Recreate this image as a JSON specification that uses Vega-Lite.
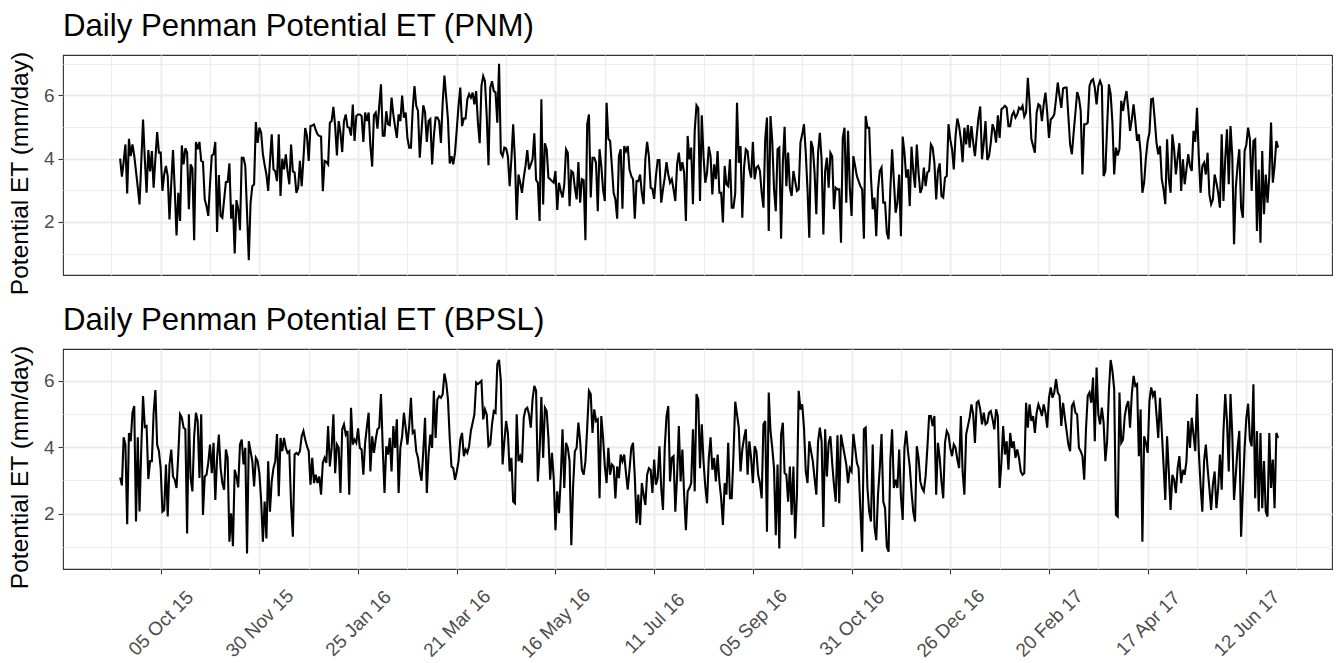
{
"$schema":"https://vega.github.io/schema/vega-lite/v6.json",
"background":"white",
"padding":{"left":6,"top":10,"right":7,"bottom":0},
"spacing":8,
"config":{"font":"Liberation Sans","view":{"stroke":"#333333","strokeWidth":1.1},
"axis":{"labelFont":"Liberation Sans","titleFont":"Liberation Sans","gridColor":"#EBEBEB","domain":false,"tickColor":"#333333","tickSize":5,"tickWidth":1.1,"labelColor":"#4D4D4D","labelFontSize":19,"titleFontSize":24.5,"titleFontWeight":"normal","titleColor":"#000000"},
"title":{"font":"Liberation Sans","fontSize":31.2,"fontWeight":"normal","color":"#000000","anchor":"start","frame":"group","offset":9}},
"data":{"values":[
{"d":"2015-09-12","p":4.0,"b":3.09},{"d":"2015-09-13","p":3.43,"b":2.85},{"d":"2015-09-14","p":3.9,"b":4.3},{"d":"2015-09-15","p":4.45,"b":4.08},{"d":"2015-09-16","p":2.9,"b":1.68},{"d":"2015-09-17","p":4.63,"b":4.43},{"d":"2015-09-18","p":4.08,"b":4.18},{"d":"2015-09-19","p":4.45,"b":5.04},{"d":"2015-09-20","p":4.1,"b":5.24},{"d":"2015-09-21","p":3.6,"b":1.76},{"d":"2015-09-22","p":3.1,"b":4.3},{"d":"2015-09-23","p":2.55,"b":2.06},{"d":"2015-09-24","p":3.9,"b":3.98},{"d":"2015-09-25","p":5.24,"b":5.54},{"d":"2015-09-26","p":4.0,"b":4.61},{"d":"2015-09-27","p":2.92,"b":4.64},{"d":"2015-09-28","p":4.27,"b":3.04},{"d":"2015-09-29","p":3.6,"b":3.58},{"d":"2015-09-30","p":4.24,"b":3.58},
{"d":"2015-10-01","p":3.08,"b":5.04},{"d":"2015-10-02","p":4.0,"b":5.72},{"d":"2015-10-03","p":4.84,"b":4.08},{"d":"2015-10-04","p":4.19,"b":3.88},{"d":"2015-10-05","p":4.19,"b":3.37},{"d":"2015-10-06","p":2.98,"b":2.06},{"d":"2015-10-07","p":3.5,"b":2.11},{"d":"2015-10-08","p":3.77,"b":3.48},{"d":"2015-10-09","p":3.45,"b":1.91},{"d":"2015-10-10","p":2.08,"b":3.48},{"d":"2015-10-11","p":3.2,"b":3.93},{"d":"2015-10-12","p":4.27,"b":3.12},{"d":"2015-10-13","p":3.0,"b":3.02},{"d":"2015-10-14","p":1.57,"b":2.77},{"d":"2015-10-15","p":2.92,"b":3.78},{"d":"2015-10-16","p":2.03,"b":4.99},{"d":"2015-10-17","p":4.42,"b":4.89},{"d":"2015-10-18","p":3.82,"b":4.59},{"d":"2015-10-19","p":4.33,"b":4.54},{"d":"2015-10-20","p":4.19,"b":1.4},{"d":"2015-10-21","p":2.4,"b":4.99},{"d":"2015-10-22","p":3.82,"b":3.07},{"d":"2015-10-23","p":3.7,"b":2.67},{"d":"2015-10-24","p":1.42,"b":4.33},{"d":"2015-10-25","p":4.53,"b":5.04},{"d":"2015-10-26","p":4.3,"b":4.79},{"d":"2015-10-27","p":4.53,"b":3.07},{"d":"2015-10-28","p":3.93,"b":4.99},{"d":"2015-10-29","p":3.9,"b":1.96},{"d":"2015-10-30","p":2.71,"b":3.12},{"d":"2015-10-31","p":2.5,"b":3.17},
{"d":"2015-11-01","p":2.19,"b":3.53},{"d":"2015-11-02","p":3.2,"b":4.08},{"d":"2015-11-03","p":4.1,"b":3.22},{"d":"2015-11-04","p":4.14,"b":4.13},{"d":"2015-11-05","p":4.53,"b":2.41},{"d":"2015-11-06","p":1.68,"b":3.68},{"d":"2015-11-07","p":3.48,"b":4.38},{"d":"2015-11-08","p":2.19,"b":3.37},{"d":"2015-11-09","p":2.13,"b":2.92},{"d":"2015-11-10","p":2.7,"b":2.72},{"d":"2015-11-11","p":3.26,"b":3.93},{"d":"2015-11-12","p":3.26,"b":3.68},{"d":"2015-11-13","p":3.85,"b":1.15},{"d":"2015-11-14","p":2.1,"b":2.01},{"d":"2015-11-15","p":2.55,"b":1.02},{"d":"2015-11-16","p":1.0,"b":3.32},{"d":"2015-11-17","p":2.69,"b":3.12},{"d":"2015-11-18","p":2.4,"b":2.79},{"d":"2015-11-19","p":1.74,"b":4.08},{"d":"2015-11-20","p":4.03,"b":4.23},{"d":"2015-11-21","p":4.03,"b":3.48},{"d":"2015-11-22","p":3.77,"b":3.98},{"d":"2015-11-23","p":2.3,"b":0.8},{"d":"2015-11-24","p":0.79,"b":4.18},{"d":"2015-11-25","p":2.6,"b":3.88},{"d":"2015-11-26","p":3.13,"b":3.58},{"d":"2015-11-27","p":3.19,"b":2.82},{"d":"2015-11-28","p":5.16,"b":3.68},{"d":"2015-11-29","p":4.5,"b":3.58},{"d":"2015-11-30","p":4.98,"b":3.22},
{"d":"2015-12-01","p":4.82,"b":2.41},{"d":"2015-12-02","p":4.14,"b":1.15},{"d":"2015-12-03","p":3.8,"b":2.36},{"d":"2015-12-04","p":3.5,"b":1.25},{"d":"2015-12-05","p":2.98,"b":3.58},{"d":"2015-12-06","p":3.9,"b":2.06},{"d":"2015-12-07","p":4.77,"b":2.97},{"d":"2015-12-08","p":3.66,"b":3.37},{"d":"2015-12-09","p":3.6,"b":3.58},{"d":"2015-12-10","p":3.29,"b":4.4},{"d":"2015-12-11","p":4.77,"b":2.52},{"d":"2015-12-12","p":2.82,"b":4.28},{"d":"2015-12-13","p":4.0,"b":3.88},{"d":"2015-12-14","p":3.66,"b":4.28},{"d":"2015-12-15","p":4.14,"b":3.98},{"d":"2015-12-16","p":3.6,"b":3.83},{"d":"2015-12-17","p":3.19,"b":3.88},{"d":"2015-12-18","p":4.45,"b":2.26},{"d":"2015-12-19","p":3.6,"b":1.3},{"d":"2015-12-20","p":3.56,"b":3.78},{"d":"2015-12-21","p":2.92,"b":3.83},{"d":"2015-12-22","p":3.08,"b":3.78},{"d":"2015-12-23","p":3.93,"b":3.88},{"d":"2015-12-24","p":3.13,"b":4.33},{"d":"2015-12-25","p":4.0,"b":4.49},{"d":"2015-12-26","p":4.97,"b":4.23},{"d":"2015-12-27","p":4.72,"b":4.03},{"d":"2015-12-28","p":3.93,"b":3.88},{"d":"2015-12-29","p":5.03,"b":2.87},{"d":"2015-12-30","p":5.05,"b":3.68},{"d":"2015-12-31","p":5.08,"b":2.92},
{"d":"2016-01-01","p":4.9,"b":3.17},{"d":"2016-01-02","p":4.77,"b":2.92},{"d":"2016-01-03","p":4.72,"b":3.12},{"d":"2016-01-04","p":4.7,"b":2.57},{"d":"2016-01-05","p":2.97,"b":3.53},{"d":"2016-01-06","p":3.93,"b":3.68},{"d":"2016-01-07","p":3.9,"b":3.53},{"d":"2016-01-08","p":3.82,"b":4.64},{"d":"2016-01-09","p":5.14,"b":3.42},{"d":"2016-01-10","p":5.19,"b":3.98},{"d":"2016-01-11","p":5.64,"b":4.99},{"d":"2016-01-12","p":5.03,"b":3.22},{"d":"2016-01-13","p":4.1,"b":4.08},{"d":"2016-01-14","p":5.19,"b":3.98},{"d":"2016-01-15","p":4.82,"b":2.62},{"d":"2016-01-16","p":4.21,"b":4.54},{"d":"2016-01-17","p":5.19,"b":4.69},{"d":"2016-01-18","p":5.4,"b":4.38},{"d":"2016-01-19","p":5.0,"b":4.49},{"d":"2016-01-20","p":4.98,"b":2.57},{"d":"2016-01-21","p":4.73,"b":5.19},{"d":"2016-01-22","p":5.71,"b":4.08},{"d":"2016-01-23","p":4.56,"b":4.23},{"d":"2016-01-24","p":5.35,"b":4.13},{"d":"2016-01-25","p":5.4,"b":4.57},{"d":"2016-01-26","p":5.4,"b":3.98},{"d":"2016-01-27","p":5.35,"b":3.93},{"d":"2016-01-28","p":4.53,"b":3.17},{"d":"2016-01-29","p":5.46,"b":4.13},{"d":"2016-01-30","p":5.19,"b":4.61},{"d":"2016-01-31","p":5.46,"b":5.04},
{"d":"2016-02-01","p":4.4,"b":3.27},{"d":"2016-02-02","p":3.75,"b":4.33},{"d":"2016-02-03","p":5.38,"b":3.83},{"d":"2016-02-04","p":5.46,"b":4.23},{"d":"2016-02-05","p":4.95,"b":4.54},{"d":"2016-02-06","p":5.67,"b":4.59},{"d":"2016-02-07","p":6.35,"b":5.6},{"d":"2016-02-08","p":4.73,"b":3.98},{"d":"2016-02-09","p":4.73,"b":2.62},{"d":"2016-02-10","p":5.5,"b":4.03},{"d":"2016-02-11","p":5.09,"b":3.78},{"d":"2016-02-12","p":5.06,"b":4.28},{"d":"2016-02-13","p":5.93,"b":3.27},{"d":"2016-02-14","p":5.4,"b":4.64},{"d":"2016-02-15","p":5.01,"b":3.98},{"d":"2016-02-16","p":4.66,"b":4.84},{"d":"2016-02-17","p":5.4,"b":2.62},{"d":"2016-02-18","p":5.19,"b":3.98},{"d":"2016-02-19","p":6.0,"b":4.33},{"d":"2016-02-20","p":5.3,"b":5.04},{"d":"2016-02-21","p":5.46,"b":4.59},{"d":"2016-02-22","p":4.66,"b":4.08},{"d":"2016-02-23","p":4.35,"b":4.64},{"d":"2016-02-24","p":4.35,"b":5.49},{"d":"2016-02-25","p":5.56,"b":4.43},{"d":"2016-02-26","p":6.3,"b":4.49},{"d":"2016-02-27","p":5.67,"b":3.88},{"d":"2016-02-28","p":5.51,"b":3.68},{"d":"2016-02-29","p":4.03,"b":3.27},
{"d":"2016-03-01","p":4.87,"b":2.99},{"d":"2016-03-02","p":5.69,"b":3.88},{"d":"2016-03-03","p":5.46,"b":4.89},{"d":"2016-03-04","p":4.53,"b":2.62},{"d":"2016-03-05","p":5.19,"b":3.78},{"d":"2016-03-06","p":5.25,"b":4.38},{"d":"2016-03-07","p":3.82,"b":3.98},{"d":"2016-03-08","p":4.72,"b":5.7},{"d":"2016-03-09","p":5.3,"b":4.28},{"d":"2016-03-10","p":5.3,"b":5.44},{"d":"2016-03-11","p":5.19,"b":5.54},{"d":"2016-03-12","p":4.5,"b":5.49},{"d":"2016-03-13","p":5.77,"b":5.6},{"d":"2016-03-14","p":6.63,"b":6.22},{"d":"2016-03-15","p":5.93,"b":5.95},{"d":"2016-03-16","p":5.25,"b":5.44},{"d":"2016-03-17","p":3.85,"b":4.28},{"d":"2016-03-18","p":4.08,"b":3.42},{"d":"2016-03-19","p":3.82,"b":3.37},{"d":"2016-03-20","p":4.19,"b":3.02},{"d":"2016-03-21","p":4.93,"b":3.27},{"d":"2016-03-22","p":5.67,"b":3.58},{"d":"2016-03-23","p":6.25,"b":4.23},{"d":"2016-03-24","p":5.03,"b":4.43},{"d":"2016-03-25","p":5.27,"b":3.73},{"d":"2016-03-26","p":5.27,"b":3.93},{"d":"2016-03-27","p":5.88,"b":3.83},{"d":"2016-03-28","p":6.04,"b":4.03},{"d":"2016-03-29","p":5.93,"b":4.49},{"d":"2016-03-30","p":6.09,"b":4.74},{"d":"2016-03-31","p":5.72,"b":4.99},
{"d":"2016-04-01","p":6.14,"b":5.95},{"d":"2016-04-02","p":5.14,"b":5.9},{"d":"2016-04-03","p":4.49,"b":5.95},{"d":"2016-04-04","p":6.3,"b":6.0},{"d":"2016-04-05","p":6.61,"b":4.84},{"d":"2016-04-06","p":6.45,"b":5.14},{"d":"2016-04-07","p":5.35,"b":4.99},{"d":"2016-04-08","p":3.79,"b":4.03},{"d":"2016-04-09","p":6.25,"b":4.08},{"d":"2016-04-10","p":6.45,"b":4.69},{"d":"2016-04-11","p":6.14,"b":5.09},{"d":"2016-04-12","p":6.1,"b":5.04},{"d":"2016-04-13","p":5.14,"b":6.5},{"d":"2016-04-14","p":7.0,"b":6.63},{"d":"2016-04-15","p":4.19,"b":6.0},{"d":"2016-04-16","p":4.08,"b":3.48},{"d":"2016-04-17","p":4.35,"b":4.18},{"d":"2016-04-18","p":4.32,"b":4.79},{"d":"2016-04-19","p":4.08,"b":4.43},{"d":"2016-04-20","p":3.13,"b":3.27},{"d":"2016-04-21","p":4.0,"b":3.68},{"d":"2016-04-22","p":5.09,"b":2.36},{"d":"2016-04-23","p":3.98,"b":2.31},{"d":"2016-04-24","p":2.06,"b":4.99},{"d":"2016-04-25","p":3.5,"b":3.58},{"d":"2016-04-26","p":3.24,"b":3.73},{"d":"2016-04-27","p":2.92,"b":3.53},{"d":"2016-04-28","p":3.4,"b":4.89},{"d":"2016-04-29","p":3.77,"b":5.14},{"d":"2016-04-30","p":4.27,"b":5.19},
{"d":"2016-05-01","p":3.66,"b":4.99},{"d":"2016-05-02","p":3.82,"b":4.59},{"d":"2016-05-03","p":3.98,"b":5.44},{"d":"2016-05-04","p":4.8,"b":5.85},{"d":"2016-05-05","p":3.33,"b":5.7},{"d":"2016-05-06","p":3.24,"b":2.97},{"d":"2016-05-07","p":2.03,"b":3.88},{"d":"2016-05-08","p":5.88,"b":5.51},{"d":"2016-05-09","p":2.55,"b":3.68},{"d":"2016-05-10","p":4.49,"b":5.19},{"d":"2016-05-11","p":4.3,"b":5.09},{"d":"2016-05-12","p":3.4,"b":4.28},{"d":"2016-05-13","p":3.35,"b":3.02},{"d":"2016-05-14","p":3.29,"b":3.83},{"d":"2016-05-15","p":3.24,"b":3.07},{"d":"2016-05-16","p":3.61,"b":1.5},{"d":"2016-05-17","p":2.38,"b":2.67},{"d":"2016-05-18","p":3.24,"b":2.01},{"d":"2016-05-19","p":2.98,"b":3.07},{"d":"2016-05-20","p":2.77,"b":4.54},{"d":"2016-05-21","p":3.19,"b":2.77},{"d":"2016-05-22","p":4.3,"b":4.13},{"d":"2016-05-23","p":4.19,"b":3.98},{"d":"2016-05-24","p":2.5,"b":3.58},{"d":"2016-05-25","p":3.61,"b":1.05},{"d":"2016-05-26","p":3.56,"b":2.82},{"d":"2016-05-27","p":3.08,"b":3.88},{"d":"2016-05-28","p":2.71,"b":3.98},{"d":"2016-05-29","p":3.89,"b":4.74},{"d":"2016-05-30","p":2.61,"b":4.18},{"d":"2016-05-31","p":3.35,"b":3.32},
{"d":"2016-06-01","p":3.32,"b":3.17},{"d":"2016-06-02","p":1.42,"b":3.58},{"d":"2016-06-03","p":5.09,"b":4.59},{"d":"2016-06-04","p":5.4,"b":5.7},{"d":"2016-06-05","p":2.77,"b":5.6},{"d":"2016-06-06","p":4.03,"b":4.43},{"d":"2016-06-07","p":4.03,"b":5.14},{"d":"2016-06-08","p":3.87,"b":4.79},{"d":"2016-06-09","p":2.34,"b":4.84},{"d":"2016-06-10","p":4.3,"b":2.46},{"d":"2016-06-11","p":3.77,"b":4.94},{"d":"2016-06-12","p":3.03,"b":4.28},{"d":"2016-06-13","p":2.66,"b":3.42},{"d":"2016-06-14","p":5.77,"b":2.92},{"d":"2016-06-15","p":4.63,"b":3.98},{"d":"2016-06-16","p":4.56,"b":3.17},{"d":"2016-06-17","p":3.77,"b":3.48},{"d":"2016-06-18","p":2.92,"b":3.42},{"d":"2016-06-19","p":2.71,"b":2.46},{"d":"2016-06-20","p":2.1,"b":3.42},{"d":"2016-06-21","p":4.08,"b":3.07},{"d":"2016-06-22","p":4.3,"b":3.78},{"d":"2016-06-23","p":2.42,"b":3.58},{"d":"2016-06-24","p":4.4,"b":3.78},{"d":"2016-06-25","p":4.24,"b":3.22},{"d":"2016-06-26","p":4.4,"b":2.72},{"d":"2016-06-27","p":3.66,"b":3.32},{"d":"2016-06-28","p":3.45,"b":3.98},{"d":"2016-06-29","p":3.35,"b":4.13},{"d":"2016-06-30","p":2.1,"b":3.12},
{"d":"2016-07-01","p":3.29,"b":1.71},{"d":"2016-07-02","p":3.29,"b":2.57},{"d":"2016-07-03","p":3.5,"b":1.66},{"d":"2016-07-04","p":2.92,"b":2.92},{"d":"2016-07-05","p":2.56,"b":2.57},{"d":"2016-07-06","p":3.98,"b":2.26},{"d":"2016-07-07","p":4.53,"b":3.17},{"d":"2016-07-08","p":4.08,"b":3.37},{"d":"2016-07-09","p":3.08,"b":3.32},{"d":"2016-07-10","p":3.05,"b":2.62},{"d":"2016-07-11","p":2.73,"b":3.63},{"d":"2016-07-12","p":3.45,"b":2.87},{"d":"2016-07-13","p":3.96,"b":3.07},{"d":"2016-07-14","p":3.96,"b":4.03},{"d":"2016-07-15","p":2.61,"b":2.77},{"d":"2016-07-16","p":3.03,"b":2.11},{"d":"2016-07-17","p":3.4,"b":3.98},{"d":"2016-07-18","p":3.89,"b":4.94},{"d":"2016-07-19","p":3.5,"b":5.24},{"d":"2016-07-20","p":3.24,"b":2.97},{"d":"2016-07-21","p":3.35,"b":3.68},{"d":"2016-07-22","p":3.03,"b":3.73},{"d":"2016-07-23","p":2.66,"b":2.06},{"d":"2016-07-24","p":3.82,"b":3.12},{"d":"2016-07-25","p":4.19,"b":4.64},{"d":"2016-07-26","p":3.61,"b":2.97},{"d":"2016-07-27","p":3.89,"b":3.93},{"d":"2016-07-28","p":3.56,"b":2.57},{"d":"2016-07-29","p":2.03,"b":1.5},{"d":"2016-07-30","p":4.72,"b":2.67},{"d":"2016-07-31","p":3.98,"b":2.77},
{"d":"2016-08-01","p":4.35,"b":2.92},{"d":"2016-08-02","p":2.56,"b":4.54},{"d":"2016-08-03","p":4.88,"b":2.67},{"d":"2016-08-04","p":5.69,"b":5.6},{"d":"2016-08-05","p":5.6,"b":5.44},{"d":"2016-08-06","p":2.66,"b":3.37},{"d":"2016-08-07","p":5.37,"b":4.69},{"d":"2016-08-08","p":4.08,"b":3.58},{"d":"2016-08-09","p":3.24,"b":2.82},{"d":"2016-08-10","p":3.56,"b":2.31},{"d":"2016-08-11","p":4.38,"b":3.68},{"d":"2016-08-12","p":4.08,"b":4.3},{"d":"2016-08-13","p":2.87,"b":3.32},{"d":"2016-08-14","p":3.82,"b":3.68},{"d":"2016-08-15","p":3.35,"b":2.97},{"d":"2016-08-16","p":4.24,"b":3.78},{"d":"2016-08-17","p":2.92,"b":2.97},{"d":"2016-08-18","p":2.92,"b":2.46},{"d":"2016-08-19","p":1.98,"b":1.66},{"d":"2016-08-20","p":3.77,"b":2.92},{"d":"2016-08-21","p":3.19,"b":2.57},{"d":"2016-08-22","p":3.13,"b":4.13},{"d":"2016-08-23","p":3.98,"b":2.46},{"d":"2016-08-24","p":2.45,"b":2.46},{"d":"2016-08-25","p":2.45,"b":3.78},{"d":"2016-08-26","p":2.92,"b":5.37},{"d":"2016-08-27","p":5.77,"b":4.99},{"d":"2016-08-28","p":3.87,"b":4.59},{"d":"2016-08-29","p":4.4,"b":3.27},{"d":"2016-08-30","p":2.13,"b":3.93},{"d":"2016-08-31","p":3.72,"b":4.28},
{"d":"2016-09-01","p":4.3,"b":4.54},{"d":"2016-09-02","p":4.24,"b":3.17},{"d":"2016-09-03","p":3.66,"b":4.18},{"d":"2016-09-04","p":3.4,"b":3.68},{"d":"2016-09-05","p":4.53,"b":2.92},{"d":"2016-09-06","p":3.35,"b":4.03},{"d":"2016-09-07","p":3.72,"b":3.88},{"d":"2016-09-08","p":3.77,"b":3.17},{"d":"2016-09-09","p":3.61,"b":2.92},{"d":"2016-09-10","p":2.92,"b":2.46},{"d":"2016-09-11","p":2.45,"b":4.69},{"d":"2016-09-12","p":4.61,"b":4.79},{"d":"2016-09-13","p":5.3,"b":1.45},{"d":"2016-09-14","p":1.71,"b":5.65},{"d":"2016-09-15","p":5.35,"b":4.49},{"d":"2016-09-16","p":4.56,"b":3.98},{"d":"2016-09-17","p":3.03,"b":3.37},{"d":"2016-09-18","p":2.34,"b":1.35},{"d":"2016-09-19","p":4.3,"b":3.48},{"d":"2016-09-20","p":4.35,"b":0.95},{"d":"2016-09-21","p":1.47,"b":4.38},{"d":"2016-09-22","p":3.87,"b":4.74},{"d":"2016-09-23","p":5.01,"b":3.22},{"d":"2016-09-24","p":3.13,"b":3.17},{"d":"2016-09-25","p":4.19,"b":2.36},{"d":"2016-09-26","p":3.08,"b":3.42},{"d":"2016-09-27","p":2.82,"b":1.96},{"d":"2016-09-28","p":3.61,"b":3.42},{"d":"2016-09-29","p":3.29,"b":1.25},{"d":"2016-09-30","p":2.98,"b":2.57},
{"d":"2016-10-01","p":3.03,"b":5.7},{"d":"2016-10-02","p":4.51,"b":5.14},{"d":"2016-10-03","p":4.77,"b":5.29},{"d":"2016-10-04","p":5.09,"b":4.59},{"d":"2016-10-05","p":4.19,"b":3.27},{"d":"2016-10-06","p":3.03,"b":2.92},{"d":"2016-10-07","p":1.5,"b":4.18},{"d":"2016-10-08","p":4.56,"b":3.88},{"d":"2016-10-09","p":4.35,"b":3.58},{"d":"2016-10-10","p":3.56,"b":3.07},{"d":"2016-10-11","p":2.24,"b":2.57},{"d":"2016-10-12","p":4.19,"b":4.18},{"d":"2016-10-13","p":4.82,"b":4.59},{"d":"2016-10-14","p":3.98,"b":4.18},{"d":"2016-10-15","p":1.6,"b":1.6},{"d":"2016-10-16","p":3.61,"b":4.54},{"d":"2016-10-17","p":4.03,"b":3.12},{"d":"2016-10-18","p":3.08,"b":4.13},{"d":"2016-10-19","p":4.19,"b":4.33},{"d":"2016-10-20","p":4.08,"b":3.53},{"d":"2016-10-21","p":2.4,"b":2.87},{"d":"2016-10-22","p":3.08,"b":2.36},{"d":"2016-10-23","p":3.03,"b":4.36},{"d":"2016-10-24","p":3.03,"b":2.31},{"d":"2016-10-25","p":1.34,"b":4.38},{"d":"2016-10-26","p":4.66,"b":4.08},{"d":"2016-10-27","p":4.98,"b":3.78},{"d":"2016-10-28","p":2.61,"b":3.48},{"d":"2016-10-29","p":4.88,"b":2.92},{"d":"2016-10-30","p":3.08,"b":3.37},{"d":"2016-10-31","p":2.19,"b":3.27},
{"d":"2016-11-01","p":4.08,"b":4.4},{"d":"2016-11-02","p":3.77,"b":3.98},{"d":"2016-11-03","p":3.45,"b":3.53},{"d":"2016-11-04","p":3.29,"b":3.37},{"d":"2016-11-05","p":3.13,"b":2.11},{"d":"2016-11-06","p":3.03,"b":0.85},{"d":"2016-11-07","p":1.47,"b":4.54},{"d":"2016-11-08","p":5.35,"b":4.59},{"d":"2016-11-09","p":4.98,"b":2.77},{"d":"2016-11-10","p":4.98,"b":2.06},{"d":"2016-11-11","p":3.4,"b":1.76},{"d":"2016-11-12","p":2.4,"b":4.08},{"d":"2016-11-13","p":2.77,"b":1.6},{"d":"2016-11-14","p":1.55,"b":1.2},{"d":"2016-11-15","p":3.03,"b":2.57},{"d":"2016-11-16","p":3.61,"b":3.37},{"d":"2016-11-17","p":3.72,"b":4.4},{"d":"2016-11-18","p":2.61,"b":2.36},{"d":"2016-11-19","p":2.61,"b":2.16},{"d":"2016-11-20","p":1.66,"b":1.0},{"d":"2016-11-21","p":1.45,"b":0.85},{"d":"2016-11-22","p":3.03,"b":3.63},{"d":"2016-11-23","p":4.3,"b":4.54},{"d":"2016-11-24","p":3.3,"b":2.77},{"d":"2016-11-25","p":2.29,"b":3.02},{"d":"2016-11-26","p":2.61,"b":2.77},{"d":"2016-11-27","p":3.5,"b":3.93},{"d":"2016-11-28","p":1.55,"b":2.52},{"d":"2016-11-29","p":4.7,"b":1.81},{"d":"2016-11-30","p":4.19,"b":3.98},
{"d":"2016-12-01","p":3.4,"b":4.49},{"d":"2016-12-02","p":3.66,"b":3.88},{"d":"2016-12-03","p":2.5,"b":3.42},{"d":"2016-12-04","p":4.38,"b":2.67},{"d":"2016-12-05","p":3.61,"b":2.06},{"d":"2016-12-06","p":3.08,"b":1.76},{"d":"2016-12-07","p":4.45,"b":4.03},{"d":"2016-12-08","p":3.56,"b":3.68},{"d":"2016-12-09","p":2.92,"b":2.97},{"d":"2016-12-10","p":3.08,"b":2.77},{"d":"2016-12-11","p":3.72,"b":2.67},{"d":"2016-12-12","p":3.13,"b":3.12},{"d":"2016-12-13","p":3.56,"b":3.98},{"d":"2016-12-14","p":3.61,"b":4.94},{"d":"2016-12-15","p":4.45,"b":4.94},{"d":"2016-12-16","p":4.35,"b":4.64},{"d":"2016-12-17","p":3.87,"b":4.94},{"d":"2016-12-18","p":2.71,"b":2.57},{"d":"2016-12-19","p":3.61,"b":4.13},{"d":"2016-12-20","p":3.85,"b":3.68},{"d":"2016-12-21","p":2.82,"b":2.97},{"d":"2016-12-22","p":2.77,"b":2.46},{"d":"2016-12-23","p":3.4,"b":4.13},{"d":"2016-12-24","p":3.45,"b":4.49},{"d":"2016-12-25","p":5.09,"b":4.38},{"d":"2016-12-26","p":4.61,"b":3.98},{"d":"2016-12-27","p":4.3,"b":3.73},{"d":"2016-12-28","p":3.66,"b":4.08},{"d":"2016-12-29","p":4.72,"b":3.98},{"d":"2016-12-30","p":5.27,"b":3.63},{"d":"2016-12-31","p":5.03,"b":3.37},
{"d":"2017-01-01","p":4.61,"b":4.94},{"d":"2017-01-02","p":3.89,"b":3.27},{"d":"2017-01-03","p":4.98,"b":2.57},{"d":"2017-01-04","p":4.45,"b":4.38},{"d":"2017-01-05","p":5.06,"b":4.64},{"d":"2017-01-06","p":4.35,"b":4.89},{"d":"2017-01-07","p":5.03,"b":5.29},{"d":"2017-01-08","p":4.51,"b":4.99},{"d":"2017-01-09","p":4.08,"b":4.13},{"d":"2017-01-10","p":4.72,"b":5.34},{"d":"2017-01-11","p":5.3,"b":5.39},{"d":"2017-01-12","p":5.65,"b":5.14},{"d":"2017-01-13","p":3.98,"b":4.69},{"d":"2017-01-14","p":4.51,"b":5.04},{"d":"2017-01-15","p":5.19,"b":4.69},{"d":"2017-01-16","p":3.96,"b":4.74},{"d":"2017-01-17","p":4.08,"b":5.04},{"d":"2017-01-18","p":4.51,"b":5.09},{"d":"2017-01-19","p":5.09,"b":4.84},{"d":"2017-01-20","p":4.91,"b":4.54},{"d":"2017-01-21","p":4.51,"b":5.14},{"d":"2017-01-22","p":5.37,"b":4.94},{"d":"2017-01-23","p":4.66,"b":2.77},{"d":"2017-01-24","p":5.56,"b":3.53},{"d":"2017-01-25","p":5.61,"b":4.64},{"d":"2017-01-26","p":5.67,"b":3.78},{"d":"2017-01-27","p":5.61,"b":4.18},{"d":"2017-01-28","p":5.03,"b":3.32},{"d":"2017-01-29","p":5.03,"b":4.43},{"d":"2017-01-30","p":5.37,"b":3.98},{"d":"2017-01-31","p":5.48,"b":4.18},
{"d":"2017-02-01","p":5.3,"b":3.68},{"d":"2017-02-02","p":5.4,"b":3.93},{"d":"2017-02-03","p":5.61,"b":3.68},{"d":"2017-02-04","p":5.56,"b":3.27},{"d":"2017-02-05","p":5.67,"b":3.17},{"d":"2017-02-06","p":5.33,"b":3.22},{"d":"2017-02-07","p":5.46,"b":5.34},{"d":"2017-02-08","p":6.56,"b":4.59},{"d":"2017-02-09","p":5.77,"b":5.29},{"d":"2017-02-10","p":4.63,"b":4.79},{"d":"2017-02-11","p":4.4,"b":4.94},{"d":"2017-02-12","p":4.19,"b":4.43},{"d":"2017-02-13","p":5.46,"b":5.04},{"d":"2017-02-14","p":5.72,"b":5.29},{"d":"2017-02-15","p":5.67,"b":5.14},{"d":"2017-02-16","p":5.19,"b":4.94},{"d":"2017-02-17","p":5.72,"b":5.29},{"d":"2017-02-18","p":6.09,"b":5.04},{"d":"2017-02-19","p":5.46,"b":4.59},{"d":"2017-02-20","p":4.66,"b":5.49},{"d":"2017-02-21","p":5.24,"b":5.8},{"d":"2017-02-22","p":5.3,"b":5.49},{"d":"2017-02-23","p":5.4,"b":5.65},{"d":"2017-02-24","p":5.88,"b":6.05},{"d":"2017-02-25","p":6.41,"b":5.65},{"d":"2017-02-26","p":5.98,"b":5.55},{"d":"2017-02-27","p":5.61,"b":4.64},{"d":"2017-02-28","p":6.22,"b":5.34},
{"d":"2017-03-01","p":6.25,"b":4.89},{"d":"2017-03-02","p":6.25,"b":4.49},{"d":"2017-03-03","p":5.35,"b":4.08},{"d":"2017-03-04","p":4.45,"b":3.88},{"d":"2017-03-05","p":4.14,"b":5.24},{"d":"2017-03-06","p":4.82,"b":5.34},{"d":"2017-03-07","p":5.46,"b":5.04},{"d":"2017-03-08","p":6.11,"b":4.99},{"d":"2017-03-09","p":5.93,"b":3.98},{"d":"2017-03-10","p":5.51,"b":3.88},{"d":"2017-03-11","p":3.5,"b":3.73},{"d":"2017-03-12","p":5.09,"b":3.02},{"d":"2017-03-13","p":5.09,"b":4.54},{"d":"2017-03-14","p":5.14,"b":5.55},{"d":"2017-03-15","p":6.3,"b":5.65},{"d":"2017-03-16","p":6.46,"b":5.34},{"d":"2017-03-17","p":6.51,"b":6.1},{"d":"2017-03-18","p":6.25,"b":4.18},{"d":"2017-03-19","p":5.72,"b":6.4},{"d":"2017-03-20","p":6.3,"b":4.99},{"d":"2017-03-21","p":6.46,"b":4.69},{"d":"2017-03-22","p":6.3,"b":5.19},{"d":"2017-03-23","p":3.45,"b":4.74},{"d":"2017-03-24","p":3.61,"b":3.58},{"d":"2017-03-25","p":5.03,"b":4.18},{"d":"2017-03-26","p":6.35,"b":5.7},{"d":"2017-03-27","p":6.04,"b":6.63},{"d":"2017-03-28","p":5.14,"b":6.3},{"d":"2017-03-29","p":3.5,"b":5.75},{"d":"2017-03-30","p":4.35,"b":1.96},{"d":"2017-03-31","p":4.1,"b":1.91},
{"d":"2017-04-01","p":4.3,"b":5.65},{"d":"2017-04-02","p":5.83,"b":4.13},{"d":"2017-04-03","p":5.51,"b":4.23},{"d":"2017-04-04","p":5.88,"b":4.94},{"d":"2017-04-05","p":6.14,"b":5.24},{"d":"2017-04-06","p":5.56,"b":5.39},{"d":"2017-04-07","p":4.88,"b":4.59},{"d":"2017-04-08","p":5.24,"b":5.6},{"d":"2017-04-09","p":5.72,"b":6.15},{"d":"2017-04-10","p":5.19,"b":5.85},{"d":"2017-04-11","p":4.56,"b":5.9},{"d":"2017-04-12","p":4.77,"b":3.73},{"d":"2017-04-13","p":4.19,"b":5.14},{"d":"2017-04-14","p":2.92,"b":1.15},{"d":"2017-04-15","p":3.24,"b":4.33},{"d":"2017-04-16","p":4.03,"b":4.13},{"d":"2017-04-17","p":4.56,"b":3.83},{"d":"2017-04-18","p":4.82,"b":5.39},{"d":"2017-04-19","p":5.88,"b":5.8},{"d":"2017-04-20","p":5.9,"b":5.55},{"d":"2017-04-21","p":5.24,"b":5.7},{"d":"2017-04-22","p":4.51,"b":4.99},{"d":"2017-04-23","p":4.14,"b":4.28},{"d":"2017-04-24","p":4.4,"b":5.49},{"d":"2017-04-25","p":3.35,"b":4.49},{"d":"2017-04-26","p":3.03,"b":3.48},{"d":"2017-04-27","p":2.56,"b":2.41},{"d":"2017-04-28","p":4.61,"b":4.33},{"d":"2017-04-29","p":3.35,"b":3.27},{"d":"2017-04-30","p":2.92,"b":2.11},
{"d":"2017-05-01","p":4.77,"b":3.17},{"d":"2017-05-02","p":4.3,"b":3.02},{"d":"2017-05-03","p":3.5,"b":2.62},{"d":"2017-05-04","p":4.03,"b":3.37},{"d":"2017-05-05","p":4.49,"b":3.73},{"d":"2017-05-06","p":2.98,"b":2.92},{"d":"2017-05-07","p":3.98,"b":3.32},{"d":"2017-05-08","p":3.19,"b":3.17},{"d":"2017-05-09","p":3.66,"b":3.58},{"d":"2017-05-10","p":4.14,"b":4.79},{"d":"2017-05-11","p":3.77,"b":3.98},{"d":"2017-05-12","p":3.61,"b":4.89},{"d":"2017-05-13","p":4.88,"b":4.38},{"d":"2017-05-14","p":4.53,"b":3.88},{"d":"2017-05-15","p":5.61,"b":5.6},{"d":"2017-05-16","p":4.08,"b":3.88},{"d":"2017-05-17","p":2.92,"b":2.87},{"d":"2017-05-18","p":3.77,"b":2.06},{"d":"2017-05-19","p":3.87,"b":3.58},{"d":"2017-05-20","p":3.5,"b":4.08},{"d":"2017-05-21","p":4.19,"b":3.37},{"d":"2017-05-22","p":2.87,"b":2.77},{"d":"2017-05-23","p":2.56,"b":2.11},{"d":"2017-05-24","p":2.71,"b":2.87},{"d":"2017-05-25","p":3.5,"b":3.27},{"d":"2017-05-26","p":3.24,"b":2.16},{"d":"2017-05-27","p":2.92,"b":2.77},{"d":"2017-05-28","p":2.45,"b":3.78},{"d":"2017-05-29","p":4.77,"b":2.72},{"d":"2017-05-30","p":2.66,"b":4.49},{"d":"2017-05-31","p":3.98,"b":5.6},
{"d":"2017-06-01","p":4.93,"b":4.79},{"d":"2017-06-02","p":3.19,"b":3.27},{"d":"2017-06-03","p":5.03,"b":5.6},{"d":"2017-06-04","p":4.08,"b":4.38},{"d":"2017-06-05","p":1.29,"b":2.41},{"d":"2017-06-06","p":3.08,"b":3.17},{"d":"2017-06-07","p":3.77,"b":3.98},{"d":"2017-06-08","p":4.3,"b":4.49},{"d":"2017-06-09","p":2.45,"b":1.3},{"d":"2017-06-10","p":2.13,"b":2.67},{"d":"2017-06-11","p":4.24,"b":3.98},{"d":"2017-06-12","p":4.45,"b":4.89},{"d":"2017-06-13","p":4.98,"b":5.31},{"d":"2017-06-14","p":4.61,"b":4.23},{"d":"2017-06-15","p":2.98,"b":4.03},{"d":"2017-06-16","p":4.56,"b":5.9},{"d":"2017-06-17","p":4.61,"b":2.46},{"d":"2017-06-18","p":1.71,"b":4.49},{"d":"2017-06-19","p":3.66,"b":2.06},{"d":"2017-06-20","p":1.34,"b":4.43},{"d":"2017-06-21","p":4.24,"b":2.16},{"d":"2017-06-22","p":2.24,"b":3.58},{"d":"2017-06-23","p":3.5,"b":2.06},{"d":"2017-06-24","p":2.61,"b":1.91},{"d":"2017-06-25","p":3.45,"b":4.43},{"d":"2017-06-26","p":5.14,"b":2.77},{"d":"2017-06-27","p":3.24,"b":3.63},{"d":"2017-06-28","p":3.77,"b":2.16},{"d":"2017-06-29","p":4.56,"b":4.43},{"d":"2017-06-30","p":4.35,"b":4.28}
]},
"vconcat":[
{"title":{"text":"Daily Penman Potential ET (PNM)"},
"width":1269,"height":220,
"mark":{"type":"line","color":"#000000","strokeWidth":2.1},
"encoding":{
"x":{"field":"d","type":"temporal","scale":{"type":"utc","domain":[{"year":2015,"month":8,"date":10,"hours":14,"utc":true},{"year":2017,"month":7,"date":30,"hours":14,"utc":true}]},
"axis":{"title":null,"labels":false,"ticks":false,"domain":false,"grid":true,
"values":[{"year":2015,"month":9,"date":7,"utc":true},{"year":2015,"month":10,"date":5,"utc":true},{"year":2015,"month":11,"date":2,"utc":true},{"year":2015,"month":11,"date":30,"utc":true},{"year":2015,"month":12,"date":28,"utc":true},{"year":2016,"month":1,"date":25,"utc":true},{"year":2016,"month":2,"date":22,"utc":true},{"year":2016,"month":3,"date":21,"utc":true},{"year":2016,"month":4,"date":18,"utc":true},{"year":2016,"month":5,"date":16,"utc":true},{"year":2016,"month":6,"date":13,"utc":true},{"year":2016,"month":7,"date":11,"utc":true},{"year":2016,"month":8,"date":8,"utc":true},{"year":2016,"month":9,"date":5,"utc":true},{"year":2016,"month":10,"date":3,"utc":true},{"year":2016,"month":10,"date":31,"utc":true},{"year":2016,"month":11,"date":28,"utc":true},{"year":2016,"month":12,"date":26,"utc":true},{"year":2017,"month":1,"date":23,"utc":true},{"year":2017,"month":2,"date":20,"utc":true},{"year":2017,"month":3,"date":20,"utc":true},{"year":2017,"month":4,"date":17,"utc":true},{"year":2017,"month":5,"date":15,"utc":true},{"year":2017,"month":6,"date":12,"utc":true},{"year":2017,"month":7,"date":10,"utc":true}],
"gridWidth":{"condition":{"test":"(time(datum.value) - utc(2015,9,5)) % 4838400000 !== 0","value":0.9},"value":1.8}}},
"y":{"field":"p","type":"quantitative","scale":{"domain":[0.32,7.28],"nice":false,"zero":false},
"axis":{"title":"Potential ET (mm/day)","titleY":118,"values":[1,2,3,4,5,6,7],"grid":true,"labelPadding":4,"titlePadding":11,
"labelExpr":"datum.value % 2 === 0 ? datum.label : ''",
"gridWidth":{"condition":{"test":"datum.value % 2 === 1","value":0.9},"value":1.8},
"tickOpacity":{"condition":{"test":"datum.value % 2 === 1","value":0},"value":1}}}}},
{"title":{"text":"Daily Penman Potential ET (BPSL)"},
"width":1269,"height":220,
"mark":{"type":"line","color":"#000000","strokeWidth":2.1},
"encoding":{
"x":{"field":"d","type":"temporal","scale":{"type":"utc","domain":[{"year":2015,"month":8,"date":10,"hours":14,"utc":true},{"year":2017,"month":7,"date":30,"hours":14,"utc":true}]},
"axis":{"title":null,"domain":false,"grid":true,"labelAngle":-45,"labelAlign":"center","labelBaseline":"middle","labelPadding":49,"labelFlush":false,"labelOverlap":false,"labelBound":false,
"values":[{"year":2015,"month":9,"date":7,"utc":true},{"year":2015,"month":10,"date":5,"utc":true},{"year":2015,"month":11,"date":2,"utc":true},{"year":2015,"month":11,"date":30,"utc":true},{"year":2015,"month":12,"date":28,"utc":true},{"year":2016,"month":1,"date":25,"utc":true},{"year":2016,"month":2,"date":22,"utc":true},{"year":2016,"month":3,"date":21,"utc":true},{"year":2016,"month":4,"date":18,"utc":true},{"year":2016,"month":5,"date":16,"utc":true},{"year":2016,"month":6,"date":13,"utc":true},{"year":2016,"month":7,"date":11,"utc":true},{"year":2016,"month":8,"date":8,"utc":true},{"year":2016,"month":9,"date":5,"utc":true},{"year":2016,"month":10,"date":3,"utc":true},{"year":2016,"month":10,"date":31,"utc":true},{"year":2016,"month":11,"date":28,"utc":true},{"year":2016,"month":12,"date":26,"utc":true},{"year":2017,"month":1,"date":23,"utc":true},{"year":2017,"month":2,"date":20,"utc":true},{"year":2017,"month":3,"date":20,"utc":true},{"year":2017,"month":4,"date":17,"utc":true},{"year":2017,"month":5,"date":15,"utc":true},{"year":2017,"month":6,"date":12,"utc":true},{"year":2017,"month":7,"date":10,"utc":true}],
"labelExpr":"(time(datum.value) - utc(2015,9,5)) % 4838400000 === 0 ? utcFormat(datum.value, '%d %b %y') : ''",
"gridWidth":{"condition":{"test":"(time(datum.value) - utc(2015,9,5)) % 4838400000 !== 0","value":0.9},"value":1.8},
"tickOpacity":{"condition":{"test":"(time(datum.value) - utc(2015,9,5)) % 4838400000 !== 0","value":0},"value":1}}},
"y":{"field":"b","type":"quantitative","scale":{"domain":[0.33,6.96],"nice":false,"zero":false},
"axis":{"title":"Potential ET (mm/day)","titleY":118,"values":[1,2,3,4,5,6],"grid":true,"labelPadding":4,"titlePadding":11,
"labelExpr":"datum.value % 2 === 0 ? datum.label : ''",
"gridWidth":{"condition":{"test":"datum.value % 2 === 1","value":0.9},"value":1.8},
"tickOpacity":{"condition":{"test":"datum.value % 2 === 1","value":0},"value":1}}}}}
]
}
